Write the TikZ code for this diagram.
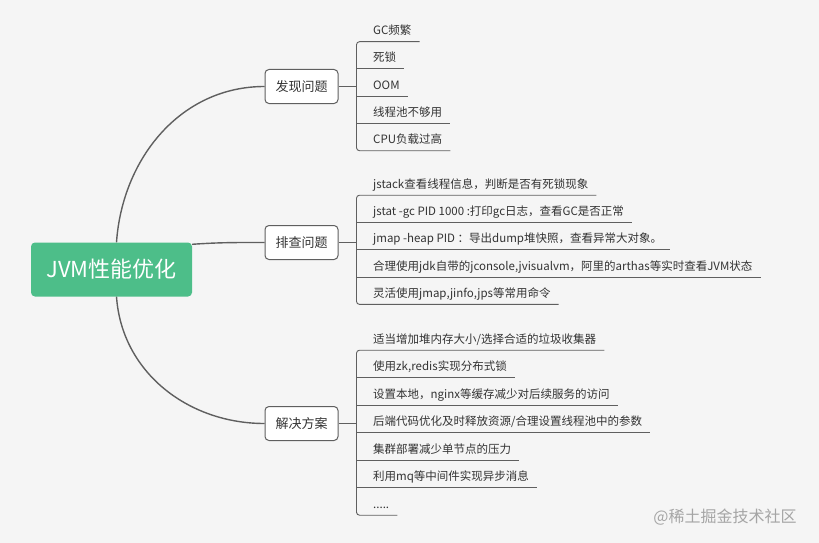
\documentclass[tikz,border=0pt]{standalone}
\usepackage{fontspec}
\setmainfont{Noto Sans CJK SC}
\usepackage{xcolor}
\usetikzlibrary{calc,positioning}

\definecolor{rootgreen}{RGB}{77,190,137}
\definecolor{linegray}{RGB}{95,95,95}
\definecolor{textgray}{RGB}{51,51,51}
\definecolor{bggray}{RGB}{245,245,245}
\definecolor{markgray}{RGB}{165,165,165}

\tikzset{
  rootbox/.style={rectangle, rounded corners=4pt, fill=rootgreen, text=white,
    font=\fontsize{22}{26}\selectfont, minimum width=161pt, minimum height=54pt},
  topicbox/.style={rectangle, rounded corners=4pt, draw=linegray, line width=1pt,
    fill=white, text=textgray, font=\fontsize{13}{15}\selectfont,
    minimum width=73pt, minimum height=34pt, inner sep=0pt},
  leaf/.style={anchor=west, inner xsep=8pt, inner ysep=0pt, text height=9pt,
    text depth=2.5pt, minimum height=20pt, text=textgray,
    font=\fontsize{11.5}{13}\selectfont},
  branch/.style={draw=linegray, line width=1.4pt},
  twig/.style={draw=linegray, line width=0.9pt, rounded corners=3pt}
}

\begin{document}
\begin{tikzpicture}[x=1pt, y=-1pt]
    % Canvas
    \fill[bggray] (0,0) rectangle (819,543);
    \useasboundingbox (0,0) rectangle (819,543);

    % Root and topics
    \node[rootbox] (jvm) at (111.5,269.5) {JVM性能优化};
    \node[topicbox] (find) at (301.5,86.5) {发现问题};
    \node[topicbox] (check) at (301.5,242.5) {排查问题};
    \node[topicbox] (solve) at (301.5,423.5) {解决方案};

    % Curves from root to topics
    \draw[branch] ([xshift=5pt]jvm.north) to[out=86,in=180] (find.west);
    \draw[branch] ([yshift=-2pt]jvm.north east) to[out=4,in=180] (check.west);
    \draw[branch] ([xshift=5pt]jvm.south) to[out=-86,in=180] (solve.west);

    % Leaves of 发现问题
    \node[leaf] (f1) at (365,31.5) {GC频繁};
    \node[leaf] (f2) at (365,58.75) {死锁};
    \node[leaf] (f3) at (365,86) {OOM};
    \node[leaf] (f4) at (365,113.25) {线程池不够用};
    \node[leaf] (f5) at (365,140.5) {CPU负载过高};

    % Leaves of 排查问题
    \node[leaf] (c1) at (365,185) {jstack查看线程信息，判断是否有死锁现象};
    \node[leaf] (c2) at (365,212.3) {jstat -gc PID 1000 :打印gc日志，查看GC是否正常};
    \node[leaf] (c3) at (365,239.6) {jmap -heap PID ：导出dump堆快照，查看异常大对象。};
    \node[leaf] (c4) at (365,266.9) {合理使用jdk自带的jconsole,jvisualvm，阿里的arthas等实时查看JVM状态};
    \node[leaf] (c5) at (365,294.2) {灵活使用jmap,jinfo,jps等常用命令};

    % Leaves of 解决方案
    \node[leaf] (s1) at (365,340) {适当增加堆内存大小/选择合适的垃圾收集器};
    \node[leaf] (s2) at (365,367.5) {使用zk,redis实现分布式锁};
    \node[leaf] (s3) at (365,395) {设置本地，nginx等缓存减少对后续服务的访问};
    \node[leaf] (s4) at (365,422.5) {后端代码优化及时释放资源/合理设置线程池中的参数};
    \node[leaf] (s5) at (365,450) {集群部署减少单节点的压力};
    \node[leaf] (s6) at (365,477.5) {利用mq等中间件实现异步消息};
    \node[leaf] (s7) at (365,505) {.....};

    % Brackets
    \coordinate (bf) at ([xshift=18pt]find.east);
    \coordinate (bc) at ([xshift=18pt]check.east);
    \coordinate (bs) at ([xshift=18pt]solve.east);

    \draw[branch] (find.east) -- (bf);
    \draw[twig] (f1.south east) -- (f1.south east -| bf) -- (f5.south east -| bf) -- (f5.south east);
    \draw[twig] (f2.south east -| bf) -- (f2.south east);
    \draw[twig] (f3.south east -| bf) -- (f3.south east);
    \draw[twig] (f4.south east -| bf) -- (f4.south east);

    \draw[branch] (check.east) -- (bc);
    \draw[twig] (c1.south east) -- (c1.south east -| bc) -- (c5.south east -| bc) -- (c5.south east);
    \draw[twig] (c2.south east -| bc) -- (c2.south east);
    \draw[twig] (c3.south east -| bc) -- (c3.south east);
    \draw[twig] (c4.south east -| bc) -- (c4.south east);

    \draw[branch] (solve.east) -- (bs);
    \draw[twig] (s1.south east) -- (s1.south east -| bs) -- (s7.south east -| bs) -- (s7.south east);
    \draw[twig] (s2.south east -| bs) -- (s2.south east);
    \draw[twig] (s3.south east -| bs) -- (s3.south east);
    \draw[twig] (s4.south east -| bs) -- (s4.south east);
    \draw[twig] (s5.south east -| bs) -- (s5.south east);
    \draw[twig] (s6.south east -| bs) -- (s6.south east);

    % Watermark
    \node[text=markgray, font=\fontsize{16}{18}\selectfont] (mark) at (725,517) {@稀土掘金技术社区};
\end{tikzpicture}
\end{document}
